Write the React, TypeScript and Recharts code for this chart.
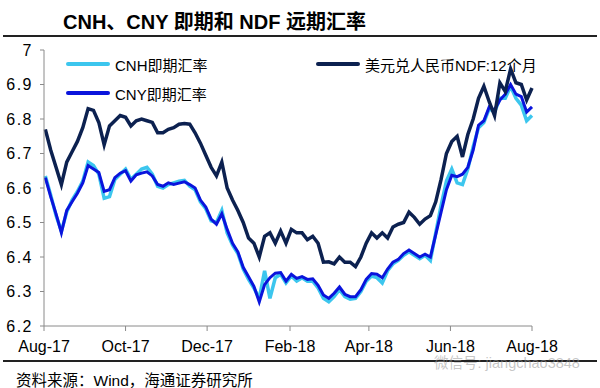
import React from "react";
import { LineChart, Line, XAxis, YAxis } from "recharts";

// day offset from 2017-08-01, sampled every 4 days
const days = [
  1, 5, 9, 13, 17, 21, 25, 29, 33, 37, 41, 45, 49, 53, 57, 61, 65, 69, 73, 77,
  81, 85, 89, 93, 97, 101, 105, 109, 113, 117, 121, 125, 129, 133, 137, 141,
  145, 149, 153, 157, 161, 165, 169, 173, 177, 181, 185, 189, 193, 197, 201,
  205, 209, 213, 217, 221, 225, 229, 233, 237, 241, 245, 249, 253, 257, 261,
  265, 269, 273, 277, 281, 285, 289, 293, 297, 301, 305, 309, 313, 317, 321,
  325, 329, 333, 337, 341, 345, 349, 353, 357, 361, 365,
];

const ndf = [
  6.77, 6.71, 6.66, 6.61, 6.675, 6.705, 6.735, 6.775, 6.83, 6.825, 6.79, 6.725,
  6.78, 6.795, 6.81, 6.805, 6.78, 6.795, 6.8, 6.795, 6.79, 6.76, 6.76, 6.77,
  6.775, 6.785, 6.787, 6.785, 6.76, 6.73, 6.695, 6.66, 6.635, 6.675, 6.6, 6.565,
  6.535, 6.5, 6.455, 6.44, 6.4, 6.46, 6.47, 6.44, 6.475, 6.44, 6.48, 6.47, 6.47,
  6.45, 6.46, 6.44, 6.385, 6.386, 6.38, 6.4, 6.385, 6.385, 6.372, 6.4, 6.44,
  6.47, 6.455, 6.47, 6.455, 6.487, 6.495, 6.5, 6.53, 6.515, 6.495, 6.51, 6.52,
  6.56, 6.625, 6.7, 6.735, 6.75, 6.69, 6.755, 6.8, 6.86, 6.895, 6.85, 6.81,
  6.905, 6.88, 6.945, 6.905, 6.9, 6.855, 6.89,
];

const cny = [
  6.63, 6.575, 6.525, 6.47, 6.535, 6.56, 6.585, 6.615, 6.665, 6.655, 6.645, 6.59,
  6.595, 6.63, 6.643, 6.65, 6.62, 6.638, 6.643, 6.647, 6.635, 6.61, 6.605, 6.615,
  6.61, 6.614, 6.618, 6.61, 6.6, 6.565, 6.545, 6.51, 6.495, 6.525, 6.48, 6.44,
  6.415, 6.37, 6.343, 6.315, 6.27, 6.32, 6.34, 6.353, 6.355, 6.33, 6.35, 6.338,
  6.343, 6.335, 6.337, 6.318, 6.29, 6.28, 6.295, 6.313, 6.292, 6.285, 6.285,
  6.305, 6.335, 6.352, 6.35, 6.34, 6.365, 6.385, 6.393, 6.41, 6.42, 6.41, 6.4,
  6.408, 6.4, 6.465, 6.53, 6.595, 6.637, 6.633, 6.64, 6.66, 6.71, 6.782, 6.795,
  6.835, 6.826, 6.855, 6.872, 6.9, 6.872, 6.865, 6.82, 6.835,
];

const cnh = [
  6.635, 6.58, 6.52, 6.475, 6.53, 6.565, 6.59, 6.62, 6.675, 6.665, 6.64, 6.57,
  6.575, 6.625, 6.64, 6.655, 6.625, 6.64, 6.655, 6.66, 6.64, 6.605, 6.6, 6.61,
  6.615, 6.62, 6.622, 6.605, 6.595, 6.56, 6.54, 6.505, 6.5, 6.535, 6.47, 6.435,
  6.41, 6.365, 6.335, 6.31, 6.28, 6.36, 6.28, 6.34, 6.35, 6.325, 6.345, 6.33,
  6.34, 6.33, 6.33, 6.31, 6.28, 6.27, 6.285, 6.305, 6.285, 6.278, 6.28, 6.3,
  6.33, 6.345, 6.34, 6.325, 6.36, 6.38, 6.39, 6.405, 6.415, 6.405, 6.395, 6.405,
  6.39, 6.47, 6.55, 6.62, 6.655, 6.615, 6.61, 6.655, 6.72, 6.775, 6.79, 6.83,
  6.82, 6.86, 6.86, 6.895, 6.86, 6.84, 6.795, 6.81,
];

const tickDays = [0, 61, 122, 184, 243, 304, 365];
const tickLabels = ["Aug-17", "Oct-17", "Dec-17", "Feb-18", "Apr-18", "Jun-18", "Aug-18"];
const yTicks = [6.2, 6.3, 6.4, 6.5, 6.6, 6.7, 6.8, 6.9, 7];

const data = days.map((d, i) => ({ day: d, cnh: cnh[i], cny: cny[i], ndf: ndf[i] }));

const FONT = "'Liberation Sans', Arial, 'Noto Sans CJK SC', sans-serif";
const CJK = "'Liberation Sans', 'Noto Sans CJK SC', sans-serif";

const C_CNH = "#3cc6ee";
const C_CNY = "#0a14dc";
const C_NDF = "#0c2150";

function LegendItem({ x, y, color, label }: { x: number; y: number; color: string; label: string }) {
  return (
    <div style={{ position: "absolute", left: x, top: y - 10, height: 20, display: "flex", alignItems: "center" }}>
      <div style={{ width: 44, height: 4, background: color, borderRadius: 2 }} />
      <span style={{ marginLeft: 5, fontSize: 15, fontFamily: CJK, color: "#000", whiteSpace: "nowrap" }}>{label}</span>
    </div>
  );
}

export default function App() {
  return (
    <div style={{ position: "absolute", left: 0, top: 0, width: 600, height: 388, background: "#fff", overflow: "hidden" }}>
      <div
        style={{
          position: "absolute",
          left: 63,
          top: 6,
          fontSize: 20,
          fontWeight: 700,
          fontFamily: CJK,
          color: "#000",
          whiteSpace: "nowrap",
        }}
      >
        CNH、CNY 即期和 NDF 远期汇率
      </div>
      <div style={{ position: "absolute", left: 3, top: 35, width: 594, height: 2, background: "#222" }} />

      <div style={{ position: "absolute", left: 0, top: 0 }}>
        <LineChart width={600} height={388} data={data} margin={{ top: 50, right: 68, bottom: 32, left: 0 }}>
          <XAxis
            dataKey="day"
            type="number"
            domain={[0, 365]}
            ticks={tickDays}
            tickFormatter={(v: number) => tickLabels[tickDays.indexOf(v)] ?? ""}
            height={30}
            stroke="#8a8a8a"
            tickSize={5}
            tickMargin={10}
            tick={{ fontSize: 16, fill: "#000", fontFamily: FONT }}
            interval={0}
          />
          <YAxis
            type="number"
            domain={[6.2, 7]}
            ticks={yTicks}
            tickFormatter={(v: number) => (v === 7 ? "7" : v.toFixed(1))}
            width={44}
            stroke="#8a8a8a"
            tickSize={4}
            tickMargin={7}
            tick={{ fontSize: 16, fill: "#000", fontFamily: FONT, letterSpacing: 1.5 }}
            interval={0}
          />
          <Line dataKey="cnh" stroke={C_CNH} strokeWidth={3.5} dot={false} isAnimationActive={false} />
          <Line dataKey="cny" stroke={C_CNY} strokeWidth={3} dot={false} isAnimationActive={false} />
          <Line dataKey="ndf" stroke={C_NDF} strokeWidth={3.5} dot={false} isAnimationActive={false} />
        </LineChart>
      </div>

      <LegendItem x={66} y={64} color={C_CNH} label="CNH即期汇率" />
      <LegendItem x={66} y={93} color={C_CNY} label="CNY即期汇率" />
      <LegendItem x={316} y={64} color={C_NDF} label="美元兑人民币NDF:12个月" />

      <div style={{ position: "absolute", left: 3, top: 360, width: 594, height: 2, background: "#222" }} />
      <div
        style={{
          position: "absolute",
          left: 434,
          top: 351,
          fontSize: 14.5,
          fontFamily: CJK,
          color: "rgba(150,150,150,0.55)",
          whiteSpace: "nowrap",
        }}
      >
        微信号: jiangchao3848
      </div>
      <div
        style={{
          position: "absolute",
          left: 16,
          top: 368,
          fontSize: 15.5,
          fontFamily: CJK,
          color: "#000",
          whiteSpace: "nowrap",
        }}
      >
        资料来源：Wind，海通证券研究所
      </div>
    </div>
  );
}
